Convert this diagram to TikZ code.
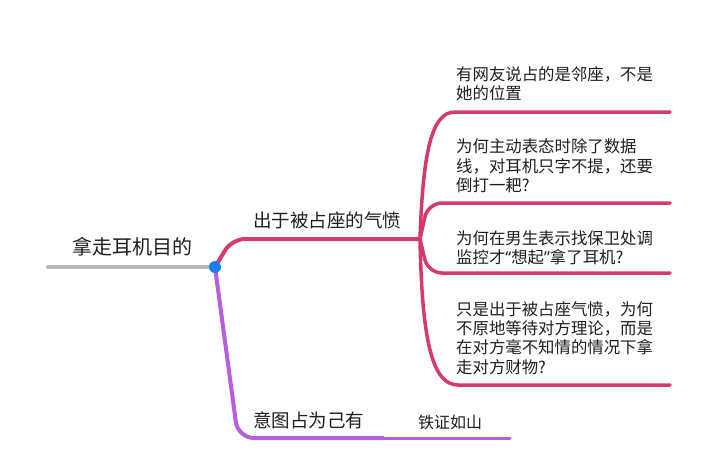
\documentclass[tikz,border=0pt]{standalone}
\usepackage{fontspec}
\setmainfont{Noto Sans CJK SC}
\newfontfamily\quotefont{Noto Sans}
\definecolor{brred}{HTML}{D63A6C}
\definecolor{brpurple}{HTML}{B95DE0}
\definecolor{brgrey}{HTML}{B8B8B8}
\definecolor{hubblue}{HTML}{1A7EEF}
\definecolor{txt}{HTML}{1E1E1E}
\begin{document}
\begin{tikzpicture}[x=1pt,y=-1pt,
  redline/.style={draw=brred,line width=4pt,line cap=round},
  redchild/.style={draw=brred,line width=3.5pt,line cap=round},
  purpleline/.style={draw=brpurple,line width=4pt,line cap=round},
  greyline/.style={draw=brgrey,line width=4pt,line cap=round},
  roottxt/.style={anchor=west,inner sep=0pt,text=txt,font=\fontsize{20}{24}\selectfont},
  branchtxt/.style={anchor=west,inner sep=0pt,text=txt,font=\fontsize{18.5}{22}\selectfont},
  childtxt/.style={anchor=west,inner sep=0pt,text=txt,align=left,font=\fontsize{16.4}{19.3}\selectfont},
]
\useasboundingbox (0,0) rectangle (720,450);
% coordinates
\coordinate (rootstart) at (48,267);
\coordinate (hubc) at (215,267);
\coordinate (fork) at (420,239);
\coordinate (c1end) at (670,112);
\coordinate (c2end) at (670,203);
\coordinate (c3end) at (670,273);
\coordinate (c4end) at (670,385);
\coordinate (p1) at (383,438);
\coordinate (p2) at (510,438);
% texts
\node[roottxt] (root) at (72,247) {拿走耳机目的};
\node[branchtxt] (b1) at (253,220) {出于被占座的气愤};
\node[branchtxt] (b2) at (253,420) {意图占为己有};
\node[childtxt] (c1) at (456,84) {有网友说占的是邻座，不是\\她的位置};
\node[childtxt] (c2) at (456,166) {为何主动表态时除了数据\\线，对耳机只字不提，还要\\倒打一耙?};
\node[childtxt] (c3) at (456,248) {为何在男生表示找保卫处调\\监控才{\quotefont“}想起{\quotefont”}拿了耳机?};
\node[childtxt] (c4) at (456,338) {只是出于被占座气愤，为何\\不原地等待对方理论，而是\\在对方毫不知情的情况下拿\\走对方财物?};
\node[anchor=west,inner sep=0pt,text=txt,font=\fontsize{16}{19}\selectfont] (p1txt) at (418,422) {铁证如山};
% connectors
\draw[greyline] (rootstart) -- (hubc);
\draw[redline,rounded corners=13pt] (hubc) -- (232,239) -- (fork);
\draw[purpleline,rounded corners=16pt] (hubc) -- (238,438) -- (p1);
\draw[draw=brpurple,line width=3pt,line cap=round] (p1) -- (p2);
\draw[redchild] (fork) .. controls (423,150) and (432,112) .. (455,112) -- (c1end);
\draw[redchild,rounded corners=14pt] (fork) -- (428,203) -- (c2end);
\draw[redchild,rounded corners=14pt] (fork) -- (428,273) -- (c3end);
\draw[redchild] (fork) .. controls (422,340) and (432,385) .. (458,385) -- (c4end);
\node[circle,fill=hubblue,inner sep=0pt,minimum size=12pt] (hub) at (hubc) {};
\end{tikzpicture}
\end{document}
